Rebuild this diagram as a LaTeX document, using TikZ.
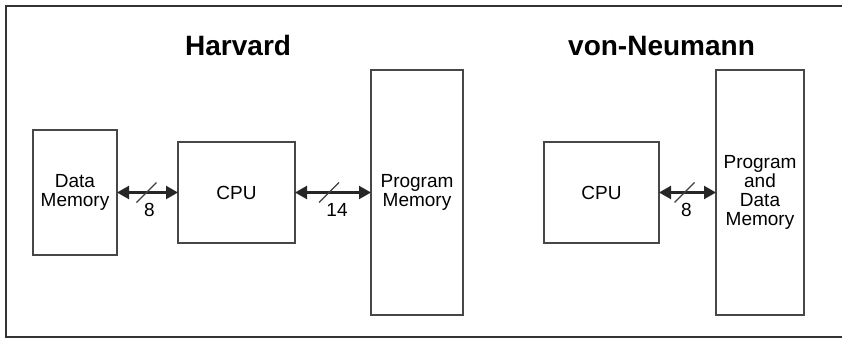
\documentclass[tikz,border=0pt]{standalone}
\usepackage{fontspec}
\setmainfont{Liberation Sans}
\usetikzlibrary{arrows.meta,calc}
\begin{document}
\begin{tikzpicture}[x=1pt,y=-1pt,
  box/.style={draw=black!72,line width=1.3pt,fill=white,inner sep=0pt,outer sep=0pt,
    align=center,font=\fontsize{19}{19}\selectfont},
  bus/.style={line width=2.2pt,draw=black!85,{Triangle[length=12pt,width=13pt]}-{Triangle[length=12pt,width=13pt]}},
  slashmark/.style={line width=1.1pt,draw=black!75},
  buslabel/.style={inner sep=0pt,font=\fontsize{19}{19}\selectfont},
  title/.style={inner sep=0pt,anchor=base west,font=\fontsize{28}{30}\selectfont\bfseries}]
\useasboundingbox (0,0) rectangle (842,340);
\fill[white] (0,0) rectangle (842,340);
\draw[line width=1.6pt,draw=black!80] (846,6) -- (6,6) -- (6,337) -- (846,337);

\node[title] (th) at (185,55) {Harvard};
\node[title] (tv) at (568,55) {von-Neumann};

\node[box,minimum width=84pt,minimum height=125pt] (dm) at (75,192.5) {Data\\Memory};
\node[box,minimum width=117pt,minimum height=101pt] (cpu1) at (236.5,192.5) {CPU};
\node[box,minimum width=92pt,minimum height=245pt] (pm) at (417,192.5) {Program\\Memory};
\node[box,minimum width=115pt,minimum height=101pt] (cpu2) at (601.5,192.5) {CPU};
\node[box,minimum width=88pt,minimum height=245pt] (pdm) at (760,192.5) {Program\\and\\Data\\Memory};

\draw[bus] (dm.east) -- (cpu1.west);
\draw[bus] (cpu1.east) -- (pm.west);
\draw[bus] (cpu2.east) -- (pdm.west);

\coordinate (s1) at ($(dm.east)!0.5!(cpu1.west)+(-1,0)$);
\coordinate (s2) at ($(cpu1.east)!0.5!(pm.west)+(-4,0)$);
\coordinate (s3) at ($(cpu2.east)!0.5!(pdm.west)+(-3,0)$);
\draw[slashmark] ($(s1)+(-10,10)$) -- ($(s1)+(10,-10)$);
\draw[slashmark] ($(s2)+(-10,10)$) -- ($(s2)+(10,-10)$);
\draw[slashmark] ($(s3)+(-10,10)$) -- ($(s3)+(10,-10)$);
\node[buslabel] (l1) at ($(s1)+(3,17)$) {8};
\node[buslabel] (l2) at ($(s2)+(8,17)$) {14};
\node[buslabel] (l3) at ($(s3)+(2,17)$) {8};
\end{tikzpicture}
\end{document}
